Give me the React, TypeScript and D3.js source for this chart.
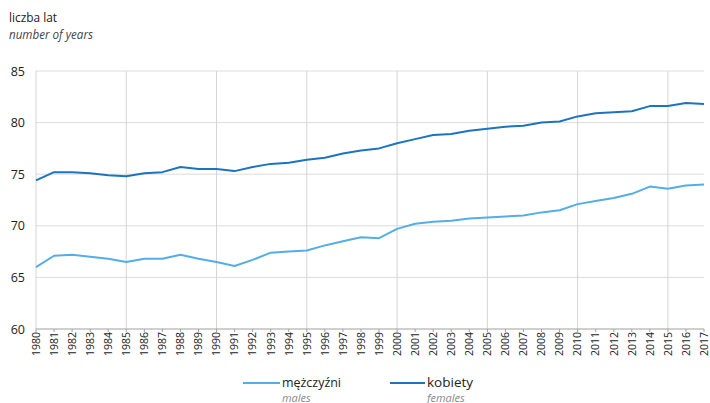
import React from "react";
import * as d3 from "d3";

const years: number[] = d3.range(1980, 2018);
const males: number[] = [66.0, 67.1, 67.2, 67.0, 66.8, 66.5, 66.8, 66.8, 67.2, 66.8, 66.5, 66.1, 66.7, 67.4, 67.5, 67.6, 68.1, 68.5, 68.9, 68.8, 69.7, 70.2, 70.4, 70.5, 70.7, 70.8, 70.9, 71.0, 71.3, 71.5, 72.1, 72.4, 72.7, 73.1, 73.8, 73.6, 73.9, 74.0];
const females: number[] = [74.4, 75.2, 75.2, 75.1, 74.9, 74.8, 75.1, 75.2, 75.7, 75.5, 75.5, 75.3, 75.7, 76.0, 76.1, 76.4, 76.6, 77.0, 77.3, 77.5, 78.0, 78.4, 78.8, 78.9, 79.2, 79.4, 79.6, 79.7, 80.0, 80.1, 80.6, 80.9, 81.0, 81.1, 81.6, 81.6, 81.9, 81.8];
const yTicks: number[] = [60, 65, 70, 75, 80, 85];
const xGridYears: number[] = [1980, 1985, 1990, 1995, 2000, 2005, 2010, 2015];

const W = 710;
const H = 403;
const FONT = "'Open Sans', 'Noto Sans', sans-serif";
const C_F = "#1c74c0";
const C_M = "#55ade6";

export default function App() {
  const x = d3.scalePoint<number>().domain(years).range([36, 704]);
  const y = d3.scaleLinear().domain([60, 85]).range([329, 71]);
  const line = d3
    .line<number>()
    .x((_, i) => x(years[i]) as number)
    .y((d) => y(d));

  return (
    <svg
      width={W}
      height={H}
      style={{ position: "absolute", left: 0, top: 0, background: "#fff" }}
      fontFamily={FONT}
    >
      <text x={9} y={22} fontSize={13.5} fill="#222" textLength={48} lengthAdjust="spacingAndGlyphs">liczba lat</text>
      <text x={9} y={38.5} fontSize={13} fontStyle="italic" fill="#444" textLength={84} lengthAdjust="spacingAndGlyphs">number of years</text>

      {yTicks.map((t) =>
        t === 60 ? null : (
          <line key={"hg" + t} x1={36} x2={704} y1={y(t)} y2={y(t)} stroke="#dcdcdc" strokeWidth={1} />
        )
      )}
      {xGridYears.map((yr) => (
        <line key={"vg" + yr} x1={x(yr)} x2={x(yr)} y1={71} y2={329} stroke="#d4d4d4" strokeWidth={1} />
      ))}
      {yTicks.map((t) => (
        <text key={"yt" + t} x={25} y={y(t) + 4.5} fontSize={12.5} textAnchor="end" fill="#222">
          {t}
        </text>
      ))}

      <line x1={36} x2={704} y1={329} y2={329} stroke="#a0a0a0" strokeWidth={1.2} />
      {years.map((yr) => (
        <g key={"xt" + yr} transform={`translate(${x(yr)},329)`}>
          <line y1={0} y2={3} stroke="#a0a0a0" strokeWidth={1} />
          <text
            transform="rotate(-90)"
            x={-3}
            y={3.8}
            fontSize={10.5}
            textAnchor="end"
            fill="#222"
          >
            {yr}
          </text>
        </g>
      ))}

      <path d={line(males) || ""} fill="none" stroke={C_M} strokeWidth={2} strokeLinejoin="round" />
      <path d={line(females) || ""} fill="none" stroke={C_F} strokeWidth={2} strokeLinejoin="round" />

      <line x1={243} x2={280} y1={383} y2={383} stroke={C_M} strokeWidth={2} />
      <text x={282} y={387} fontSize={13.5} fill="#222" textLength={59} lengthAdjust="spacingAndGlyphs">mężczyźni</text>
      <text x={282} y={401.5} fontSize={11} fontStyle="italic" fill="#888">males</text>

      <line x1={390} x2={425} y1={383} y2={383} stroke={C_F} strokeWidth={2} />
      <text x={427} y={387} fontSize={13.5} fill="#222">kobiety</text>
      <text x={427} y={401.5} fontSize={11} fontStyle="italic" fill="#888">females</text>
    </svg>
  );
}
